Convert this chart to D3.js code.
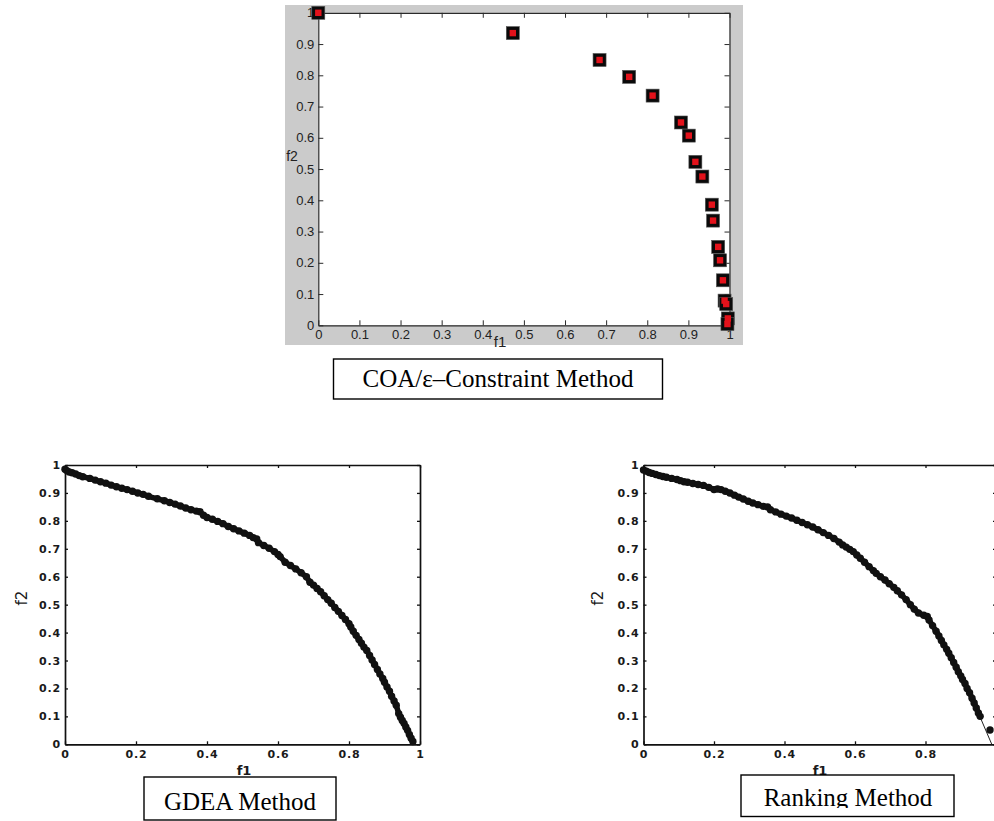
<!DOCTYPE html>
<html>
<head>
<meta charset="utf-8">
<script src="https://cdn.jsdelivr.net/npm/d3@7"></script>
<style>
  html, body { margin: 0; padding: 0; background: #fff; }
  svg { display: block; }
</style>
</head>
<body>
<svg id="chart" width="994" height="821"></svg>
<script>
// ---------------- DATA ----------------
const coaF1 = [0, 0.473, 0.684, 0.756, 0.813, 0.882, 0.901, 0.917, 0.934, 0.957, 0.960, 0.9725, 0.977, 0.984, 0.988, 0.992, 0.996, 0.995];
const coaF2 = [1.0, 0.935, 0.849, 0.795, 0.735, 0.649, 0.607, 0.523, 0.476, 0.386, 0.335, 0.251, 0.208, 0.144, 0.079, 0.068, 0.022, 0.004];

const gdeaF1 = [0.0, 0.005, 0.012, 0.02, 0.03, 0.04, 0.05, 0.07, 0.085, 0.1, 0.115, 0.13, 0.145, 0.16, 0.175, 0.19, 0.205, 0.22, 0.235, 0.26,
  0.28, 0.295, 0.31, 0.325, 0.34, 0.355, 0.37, 0.38, 0.39, 0.40, 0.415, 0.43, 0.445, 0.46, 0.475, 0.49, 0.505, 0.52, 0.53, 0.54,
  0.545, 0.56, 0.575, 0.59, 0.60, 0.606, 0.62, 0.635, 0.65, 0.665, 0.68, 0.69, 0.70, 0.71, 0.72, 0.73, 0.74, 0.75, 0.76, 0.77,
  0.78, 0.79, 0.80, 0.805, 0.812, 0.82, 0.828, 0.835, 0.842, 0.85, 0.858, 0.865, 0.872, 0.88, 0.887, 0.895, 0.90, 0.907, 0.914, 0.92,
  0.927, 0.933, 0.94, 0.945, 0.95, 0.955, 0.96, 0.965, 0.97, 0.975, 0.98];
const gdeaF2 = [0.985, 0.98, 0.975, 0.972, 0.968, 0.962, 0.958, 0.952, 0.946, 0.94, 0.935, 0.928, 0.922, 0.917, 0.912, 0.906, 0.90, 0.895, 0.888, 0.879,
  0.872, 0.866, 0.86, 0.853, 0.846, 0.84, 0.835, 0.833, 0.82, 0.812, 0.806, 0.798, 0.79, 0.78, 0.772, 0.764, 0.756, 0.748, 0.74, 0.735,
  0.722, 0.712, 0.702, 0.69, 0.68, 0.672, 0.652, 0.64, 0.628, 0.614, 0.60, 0.58, 0.57, 0.558, 0.546, 0.532, 0.518, 0.505, 0.49, 0.476,
  0.461, 0.447, 0.432, 0.42, 0.405, 0.39, 0.375, 0.362, 0.348, 0.336, 0.318, 0.302, 0.286, 0.268, 0.252, 0.236, 0.222, 0.205, 0.19, 0.172,
  0.155, 0.14, 0.11, 0.097, 0.085, 0.075, 0.062, 0.05, 0.035, 0.022, 0.01];

const rankF1 = [0, 0.008, 0.016, 0.025, 0.035, 0.045, 0.055, 0.065, 0.08, 0.095, 0.105, 0.115, 0.125, 0.14, 0.155, 0.17, 0.185, 0.2, 0.21, 0.22,
  0.232, 0.245, 0.258, 0.27, 0.283, 0.297, 0.31, 0.325, 0.34, 0.352, 0.36, 0.375, 0.39, 0.405, 0.42, 0.435, 0.45, 0.465, 0.48, 0.495,
  0.51, 0.525, 0.54, 0.555, 0.565, 0.575, 0.585, 0.595, 0.605, 0.615, 0.627, 0.64, 0.652, 0.66, 0.672, 0.685, 0.697, 0.71, 0.72, 0.732,
  0.745, 0.757, 0.768, 0.78, 0.795, 0.805, 0.81, 0.82, 0.83, 0.838, 0.845, 0.852, 0.86, 0.866, 0.873, 0.88, 0.887, 0.893, 0.9, 0.905,
  0.912, 0.918, 0.925, 0.932, 0.938, 0.944, 0.95, 0.955];
const rankF2 = [0.982, 0.978, 0.973, 0.97, 0.966, 0.962, 0.959, 0.956, 0.952, 0.948, 0.944, 0.94, 0.938, 0.934, 0.93, 0.927, 0.92, 0.912, 0.914, 0.912,
  0.906, 0.90, 0.892, 0.885, 0.878, 0.87, 0.864, 0.858, 0.852, 0.85, 0.84, 0.832, 0.824, 0.817, 0.81, 0.802, 0.794, 0.786, 0.778, 0.768,
  0.758, 0.748, 0.737, 0.724, 0.714, 0.706, 0.698, 0.69, 0.678, 0.666, 0.652, 0.636, 0.622, 0.612, 0.60, 0.588, 0.575, 0.562, 0.55, 0.535,
  0.518, 0.50, 0.484, 0.47, 0.462, 0.458, 0.445, 0.425, 0.405, 0.388, 0.372, 0.356, 0.34, 0.326, 0.31, 0.293, 0.276, 0.26, 0.245, 0.232,
  0.218, 0.20, 0.185, 0.165, 0.148, 0.13, 0.112, 0.10];
const rankOutF1 = [0.983];
const rankOutF2 = [0.051];
const rankTailF1 = [0.95, 0.988];
const rankTailF2 = [0.112, 0.0];

const topTicksX = [0, 0.1, 0.2, 0.3, 0.4, 0.5, 0.6, 0.7, 0.8, 0.9, 1];
const topTicksY = [0, 0.1, 0.2, 0.3, 0.4, 0.5, 0.6, 0.7, 0.8, 0.9, 1];
const botTicksX = [0, 0.2, 0.4, 0.6, 0.8, 1];
const botTicksY = [0, 0.1, 0.2, 0.3, 0.4, 0.5, 0.6, 0.7, 0.8, 0.9, 1];
const captions = ["COA/ε–Constraint Method", "GDEA Method", "Ranking Method"];
const xLabel = "f1", yLabel = "f2";

// ---------------- DRAW ----------------
const svg = d3.select("#chart");
const fmt = d => String(d);

// ===== Top chart (MATLAB-like) =====
{
  const g = svg.append("g");
  g.append("rect").attr("x", 285).attr("y", 5).attr("width", 458).attr("height", 340).attr("fill", "#cbcbcb");
  const x = d3.scaleLinear().domain([0, 1]).range([318.3, 729.5]);
  const y = d3.scaleLinear().domain([0, 1]).range([325.3, 12.8]);
  g.append("rect").attr("x", x(0)).attr("y", y(1)).attr("width", x(1) - x(0)).attr("height", y(0) - y(1)).attr("fill", "#fff");

  const style = sel => {
    sel.selectAll("path.domain").attr("stroke", "#2a2a2a").attr("stroke-width", 1.2);
    sel.selectAll(".tick line").attr("stroke", "#2a2a2a");
    sel.selectAll("text").attr("fill", "#222").attr("font-family", "'Liberation Sans', Arial, sans-serif").attr("font-size", 13);
  };
  g.append("g").attr("transform", `translate(0,${y(0)})`)
    .call(d3.axisBottom(x).tickValues(topTicksX).tickFormat(fmt).tickSizeInner(-5).tickSizeOuter(0).tickPadding(4))
    .call(style);
  g.append("g").attr("transform", `translate(0,${y(1)})`)
    .call(d3.axisTop(x).tickValues(topTicksX).tickFormat("").tickSizeInner(-5).tickSizeOuter(0))
    .call(style);
  g.append("g").attr("transform", `translate(${x(0)},0)`)
    .call(d3.axisLeft(y).tickValues(topTicksY).tickFormat(fmt).tickSizeInner(-5).tickSizeOuter(0).tickPadding(4))
    .call(style);
  g.append("g").attr("transform", `translate(${x(1)},0)`)
    .call(d3.axisRight(y).tickValues(topTicksY).tickFormat("").tickSizeInner(-5).tickSizeOuter(0))
    .call(style);

  g.append("text").attr("x", 500).attr("y", 347).attr("text-anchor", "middle")
    .attr("font-family", "'Liberation Sans', Arial, sans-serif").attr("font-size", 15).attr("fill", "#222").text(xLabel);
  g.append("text").attr("x", 292).attr("y", 161).attr("text-anchor", "middle")
    .attr("font-family", "'Liberation Sans', Arial, sans-serif").attr("font-size", 14).attr("fill", "#222").text(yLabel);

  const pts = coaF1.map((d, i) => [d, coaF2[i]]);
  g.selectAll("rect.mk").data(pts).enter().append("rect").attr("class", "mk")
    .attr("x", d => x(d[0]) - 6.5).attr("y", d => y(d[1]) - 6.5).attr("width", 13).attr("height", 13)
    .attr("fill", "#0a0a0a").attr("stroke", "#555").attr("stroke-width", 0.6);
  g.selectAll("rect.mi").data(pts).enter().append("rect").attr("class", "mi")
    .attr("x", d => x(d[0]) - 3.2).attr("y", d => y(d[1]) - 3.2).attr("width", 6.4).attr("height", 6.4)
    .attr("fill", "#e3121b");
}

// caption helper
function caption(x0, y0, w, h, txt, tx, ty, fs, clipH) {
  const g = svg.append("g");
  if (clipH) {
    const id = "clip" + Math.round(x0);
    svg.append("clipPath").attr("id", id).append("rect").attr("x", x0).attr("y", y0).attr("width", w).attr("height", clipH);
    g.attr("clip-path", `url(#${id})`);
  }
  g.append("text").attr("x", tx).attr("y", ty).attr("text-anchor", "middle")
    .attr("font-family", "'Liberation Serif', 'Times New Roman', serif").attr("font-size", fs).attr("fill", "#000").text(txt);
  svg.append("rect").attr("x", x0).attr("y", y0).attr("width", w).attr("height", h)
    .attr("fill", "none").attr("stroke", "#000").attr("stroke-width", 1.4);
}
caption(333.5, 359, 329, 40, captions[0], 498, 387, 25);

// ===== Bottom charts =====
function bottomChart(x0px, x1px, f1s, f2s, outF1, outF2, tailF1, tailF2, labX, labY2, showOne) {
  const g = svg.append("g");
  const x = d3.scaleLinear().domain([0, 1]).range([x0px, x1px]);
  const y = d3.scaleLinear().domain([0, 1]).range([744.3, 465]);
  const style = sel => {
    sel.selectAll("path.domain").attr("stroke", "#111").attr("stroke-width", 1.7);
    sel.selectAll(".tick line").attr("stroke", "#111").attr("stroke-width", 1.3);
    sel.selectAll("text").attr("fill", "#1a1a1a").attr("font-family", "'DejaVu Sans', Verdana, sans-serif")
      .attr("font-weight", "bold").attr("font-size", 11).attr("letter-spacing", 0.8);
  };
  g.append("g").attr("transform", `translate(0,${y(0)})`)
    .call(d3.axisBottom(x).tickValues(botTicksX).tickFormat(d => (d === 1 && !showOne) ? "" : fmt(d))
      .tickSizeInner(-3).tickSizeOuter(0).tickPadding(6))
    .call(style);
  g.append("g").attr("transform", `translate(0,${y(1)})`)
    .call(d3.axisTop(x).tickValues(botTicksX).tickFormat("").tickSizeInner(-3).tickSizeOuter(0))
    .call(style);
  g.append("g").attr("transform", `translate(${x(0)},0)`)
    .call(d3.axisLeft(y).tickValues(botTicksY).tickFormat(fmt).tickSizeInner(-3).tickSizeOuter(0).tickPadding(4))
    .call(style);
  g.append("g").attr("transform", `translate(${x(1)},0)`)
    .call(d3.axisRight(y).tickValues(botTicksY).tickFormat("").tickSizeInner(-3).tickSizeOuter(0))
    .call(style);

  g.append("text").attr("x", labX).attr("y", 775).attr("text-anchor", "middle")
    .attr("font-family", "'DejaVu Sans', Verdana, sans-serif").attr("font-weight", "bold").attr("font-size", 13)
    .attr("fill", "#1a1a1a").text(xLabel);
  g.append("text").attr("transform", `translate(${labY2},598) rotate(-90)`).attr("text-anchor", "middle")
    .attr("font-family", "'DejaVu Sans', Verdana, sans-serif").attr("font-size", 15)
    .attr("fill", "#1a1a1a").text(yLabel);

  if (tailF1) {
    g.append("path").datum(tailF1.map((d, i) => [d, tailF2[i]]))
      .attr("d", d3.line().x(d => x(d[0])).y(d => y(d[1])))
      .attr("stroke", "#222").attr("stroke-width", 1).attr("fill", "none");
  }
  const pts = f1s.map((d, i) => [d, f2s[i]]);
  g.append("path").datum(pts)
    .attr("d", d3.line().x(d => x(d[0])).y(d => y(d[1])))
    .attr("stroke", "#111").attr("stroke-width", 5.5).attr("stroke-linecap", "round").attr("stroke-linejoin", "round")
    .attr("fill", "none");
  const all = pts.concat((outF1 || []).map((d, i) => [d, outF2[i]]));
  g.selectAll("circle").data(all).enter().append("circle")
    .attr("cx", d => x(d[0])).attr("cy", d => y(d[1])).attr("r", 3.7).attr("fill", "#111");
}
bottomChart(65, 420, gdeaF1, gdeaF2, null, null, null, null, 244, 27, true);
bottomChart(643.5, 996, rankF1, rankF2, rankOutF1, rankOutF2, rankTailF1, rankTailF2, 820, 603, false);

caption(144, 777, 192, 43, captions[1], 240, 810, 25);
caption(741, 775, 213, 41.5, captions[2], 848, 806, 25, 33);
</script>
</body>
</html>
